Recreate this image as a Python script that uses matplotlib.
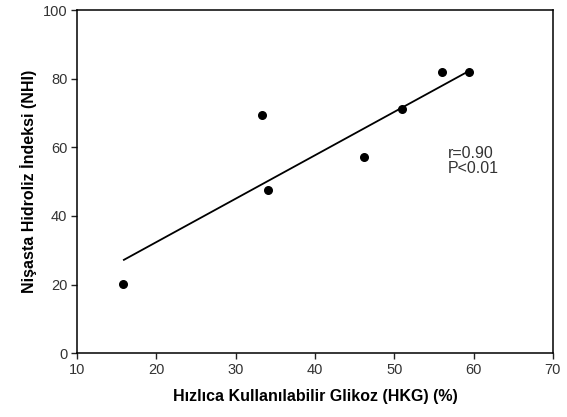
import matplotlib
matplotlib.use("Agg")
import matplotlib.pyplot as plt

plt.rcParams['font.family'] = ['Liberation Sans', 'DejaVu Sans']

hkg = [15.8, 33.3, 34.1, 46.2, 51.0, 56.0, 59.4]
nhi = [20.2, 69.3, 47.6, 57.1, 71.1, 81.9, 81.9]
fit_x = [15.9, 59.4]
fit_y = [27.2, 82.2]
xticks = [10, 20, 30, 40, 50, 60, 70]
yticks = [0, 20, 40, 60, 80, 100]

fig = plt.figure(figsize=(5.67, 4.17), dpi=100)
ax = fig.add_axes([0.136, 0.153, 0.839, 0.823])
ax.plot(fit_x, fit_y, color='black', lw=1.3)
ax.scatter(hkg, nhi, s=30, color='black', zorder=3)
ax.set_xlim(10, 70)
ax.set_ylim(0, 100)
ax.set_xticks(xticks)
ax.set_yticks(yticks)
ax.tick_params(direction='out', length=4, width=1, labelsize=10.5, colors='#222222', labelcolor='#333333', pad=3)
for s in ax.spines.values():
    s.set_linewidth(1.1)
ax.set_xlabel('Hızlıca Kullanılabilir Glikoz (HKG) (%)', fontsize=11.5, fontweight='bold', labelpad=9)
ax.set_ylabel('Nişasta Hidroliz İndeksi (NHI)', fontsize=11.5, fontweight='bold', labelpad=4)
ax.text(56.7, 56.0, 'r=0.90\nP<0.01', fontsize=11.5, color='#333333', va='center', ha='left', linespacing=1.05)
fig.savefig('out.png', dpi=100)
